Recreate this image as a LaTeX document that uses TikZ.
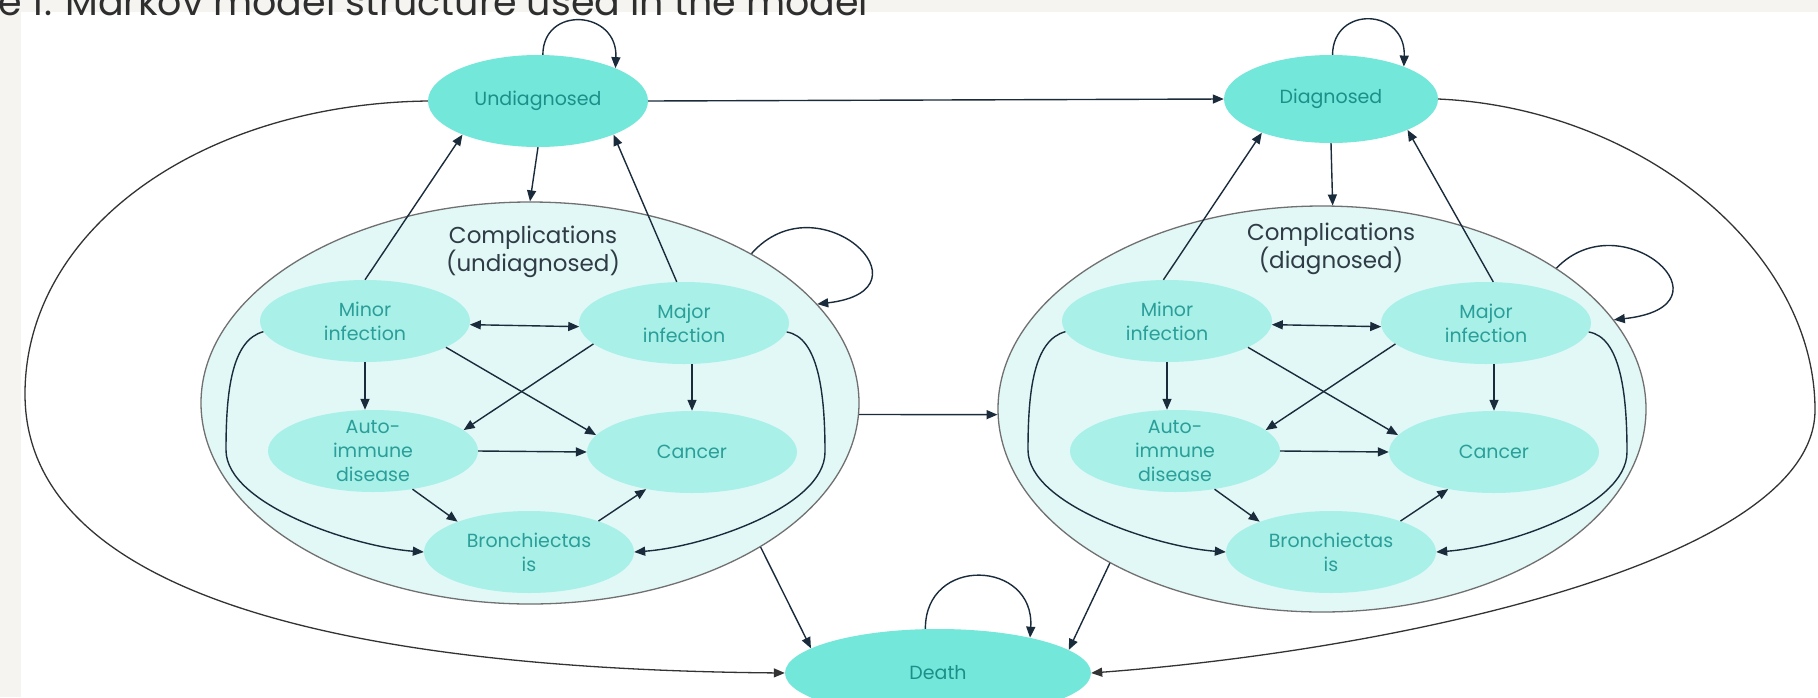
\documentclass[tikz,border=0pt]{standalone}
\usepackage{fontspec}
\setmainfont{Poppins}
\usetikzlibrary{arrows.meta,calc,shapes.geometric}
\definecolor{bggray}{HTML}{F5F4F0}
\definecolor{mainfill}{HTML}{72E7DA}
\definecolor{innerfill}{HTML}{A9F0E9}
\definecolor{bigfill}{HTML}{E2F8F6}
\definecolor{bigline}{HTML}{707070}
\definecolor{nodetext}{HTML}{1E8E89}
\definecolor{innertext}{HTML}{2A9E98}
\definecolor{arrowc}{HTML}{1A2B3B}
\definecolor{curvec}{HTML}{333333}
\definecolor{titletext}{HTML}{2F3B45}
\definecolor{captext}{HTML}{2E2E2E}

\newcommand\innercluster{%
  \node[innernode] (mi) at (365,321) {Minor\\infection};
  \node[innernode] (ma) at (684,323) {Major\\infection};
  \node[innernode,inner ysep=-8pt] (au) at (373,451) {Auto-\\immune\\disease};
  \node[innernode] (ca) at (692,452) {Cancer};
  \node[innernode] (br) at (529,552) {Bronchiectas\\is};
  \draw[arr,<->] (mi.-2) -- (ma.182);
  \draw[arr,->] (mi.south) -- (mi.south |- au.north);
  \draw[arr,->] (ca.north |- ma.south) -- (ca.north);
  \draw[arr,->] (mi.-18) -- (ca.170);
  \draw[arr,->] (ma.-167) -- (au.13);
  \draw[arr,->] (au.east) -- (ca.west);
  \draw[arr,->] (au.-44) -- (br.157);
  \draw[arr,->] (br.24) -- (ca.-141);
  \draw[arr,->] (mi.-174) .. controls (232,340) and (226,390) .. (226,450)
     .. controls (226,505) and (355,547) .. (br.west);
  \draw[arr,->] (ma.-5) .. controls (818,337) and (825,392) .. (825,452)
     .. controls (825,507) and (703,547) .. (br.east);
}

\begin{document}
\begin{tikzpicture}[x=1pt,y=-1pt,
  >={Triangle[length=11pt,width=9pt]},
  mainnode/.style={ellipse, fill=mainfill, text=nodetext, inner sep=0pt,
    font=\fontsize{19}{24}\selectfont},
  innernode/.style={ellipse, fill=innerfill, text=innertext, inner sep=0pt,
    minimum width=210pt, minimum height=82pt, align=center,
    font=\fontsize{19}{24}\selectfont},
  bigell/.style={ellipse, fill=bigfill, draw=bigline, line width=1.3pt, inner sep=0pt},
  titlelab/.style={text=titletext, align=center, inner sep=0pt,
    font=\fontsize{23}{28}\selectfont},
  arr/.style={draw=arrowc, line width=1.4pt},
  curve/.style={draw=curvec, line width=1.3pt}]
\useasboundingbox (0,0) rectangle (1818,697);
\clip (0,0) rectangle (1818,697);
\fill[bggray] (0,0) rectangle (1818,697);
\fill[white] (21,12) rectangle (1818,697);
\node[anchor=base west, text=captext, inner sep=0pt,
  font=\fontsize{38}{40}\selectfont] (cap) at (-2,15)
  {e 1. Markov model structure used in the model};

% complication containers
\node[bigell, minimum width=658pt, minimum height=402pt] (cu) at (530,403) {};
\node[bigell, minimum width=648pt, minimum height=406pt] (cd) at (1322,409) {};
\node[titlelab] (cul) at (533,252) {Complications\\(undiagnosed)};
\node[titlelab] (cdl) at (1331,249) {Complications\\(diagnosed)};

% main states
\node[mainnode, minimum width=220pt, minimum height=92pt] (u) at (538,101) {Undiagnosed};
\node[mainnode, minimum width=214pt, minimum height=88pt] (d) at (1331,99) {Diagnosed};
\node[mainnode, minimum width=306pt, minimum height=88pt] (death) at (938,673) {Death};

% clusters
\begin{scope}[name prefix=u-]
  \innercluster
\end{scope}
\begin{scope}[shift={(802,0)}, name prefix=d-]
  \innercluster
\end{scope}

% outer connectors
\draw[arr,->] (u.east) -- (d.west);
\draw[arr,->] (u.south) -- (cu.north);
\draw[arr,->] (u-mi.north) -- (u.-156);
\draw[arr,->] (u-ma.100) -- (u.-24);
\draw[arr,->] (cu.-2) -- (cd.-179);
\draw[arr,->] (cu.-32) -- (death.169);
\draw[arr,->] (cd.-144) -- (death.10);
\draw[arr,->] (d.south) -- (cd.87);
\draw[arr,->] (d-mi.95) -- (d.-154);
\draw[arr,->] (d-ma.80) -- (d.-22);

% self loops
\draw[arr,->] (u.84) .. controls (543,5) and (618,10) .. (u.23);
\draw[arr,->] (d.88) .. controls (1333,5) and (1406,8) .. (d.24);
\draw[arr,->] (death.106) .. controls (925,555) and (1035,560) .. (death.21);
\draw[arr,->] (cu.34) .. controls (818,178) and (938,290) .. (cu.19);
\draw[arr,->] (cd.31) .. controls (1622,200) and (1740,306) .. (cd.17);

% long curves to death
\draw[curve,->] (u.west) .. controls (200,104) and (25,230) .. (25,394)
  .. controls (25,590) and (330,669) .. (death.west);
\draw[curve,->] (d.east) .. controls (1640,108) and (1815,250) .. (1815,410)
  .. controls (1815,560) and (1400,650) .. (death.east);
\end{tikzpicture}
\end{document}
